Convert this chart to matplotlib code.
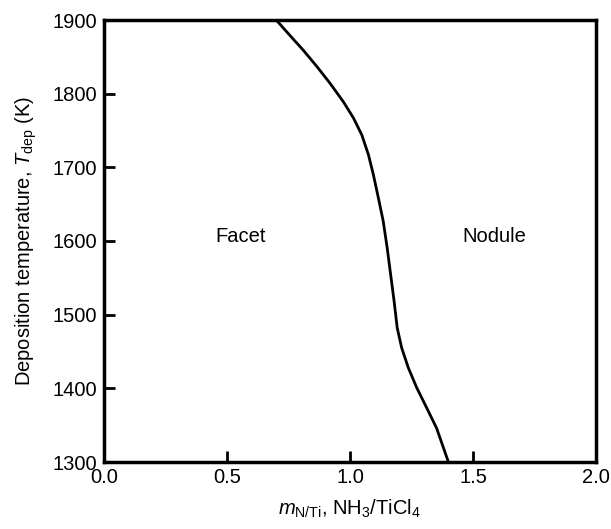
import matplotlib.pyplot as plt

plt.rcParams['font.family'] = ['Liberation Sans', 'DejaVu Sans']
plt.rcParams['mathtext.fontset'] = 'custom'
plt.rcParams['mathtext.rm'] = 'Liberation Sans'
plt.rcParams['mathtext.it'] = 'Liberation Sans:italic'

# boundary between facet and nodule regions
ratio = [0.700, 0.756, 0.810, 0.865, 0.919, 0.973, 1.014, 1.048, 1.075, 1.095,
         1.115, 1.135, 1.151, 1.165, 1.179, 1.192, 1.210, 1.237, 1.271, 1.311,
         1.352, 1.400]
temp = [1900, 1879, 1859, 1837, 1814, 1789, 1767, 1744, 1717, 1690,
        1659, 1627, 1591, 1555, 1519, 1482, 1455, 1428, 1401, 1374,
        1346, 1300]

xticks = [0.0, 0.5, 1.0, 1.5, 2.0]
yticks = [1300, 1400, 1500, 1600, 1700, 1800, 1900]

fig = plt.figure(figsize=(6.11, 5.29), dpi=100)
ax = fig.add_axes([104 / 611, 67 / 529, 492 / 611, 442 / 529])

ax.plot(ratio, temp, color='black', lw=2, solid_joinstyle='round')

ax.set_xlim(0, 2)
ax.set_ylim(1300, 1900)
ax.set_xticks(xticks)
ax.set_xticklabels(['%.1f' % t for t in xticks])
ax.set_yticks(yticks)
ax.tick_params(direction='in', length=8, width=2, labelsize=14.5, top=False, right=False)
ax.tick_params(axis='x', pad=4)
ax.tick_params(axis='y', pad=5)
for s in ax.spines.values():
    s.set_linewidth(2.5)

ax.text(0.557, 1606, 'Facet', fontsize=14.5, ha='center', va='center')
ax.text(1.585, 1606, 'Nodule', fontsize=14.5, ha='center', va='center')

ax.set_xlabel(r'$m_{\mathrm{N/Ti}}$, NH$_3$/TiCl$_4$', fontsize=14.5, labelpad=8)
ax.set_ylabel(r'Deposition temperature, $T_{\mathrm{dep}}$ (K)', fontsize=14.5, labelpad=10)

fig.savefig('out.png', dpi=100)
